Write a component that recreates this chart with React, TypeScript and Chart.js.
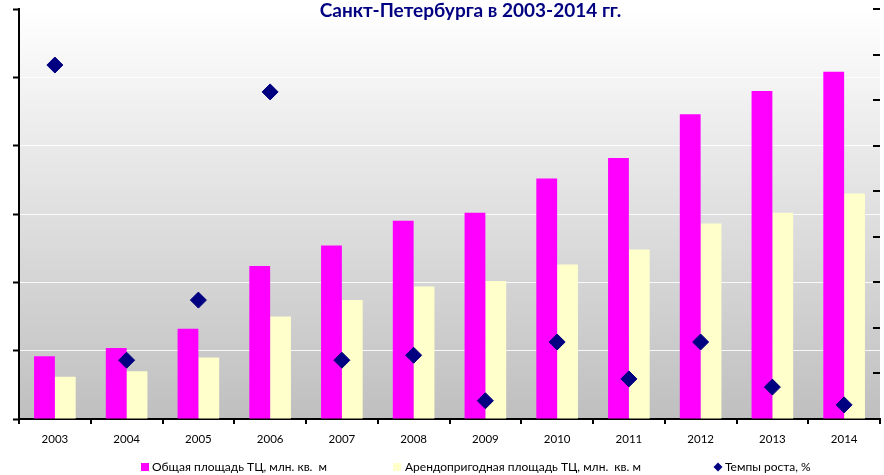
import { useEffect, useRef } from "react";
import { Chart, registerables } from "chart.js";

Chart.register(...registerables);

const years = ["2003", "2004", "2005", "2006", "2007", "2008", "2009", "2010", "2011", "2012", "2013", "2014"];
const totalArea = [0.46, 0.52, 0.66, 1.12, 1.27, 1.45, 1.51, 1.76, 1.91, 2.23, 2.4, 2.54];
const rentableArea = [0.31, 0.35, 0.45, 0.75, 0.87, 0.97, 1.01, 1.13, 1.24, 1.43, 1.51, 1.65];
const growthRate = [77.7, 12.9, 26.1, 71.8, 12.9, 14.0, 4.0, 16.9, 8.8, 16.9, 7.0, 3.1];

const titleText = "Санкт-Петербурга в 2003-2014 гг.";
const seriesNames = [
  "Общая площадь ТЦ, млн. кв.  м",
  "Арендопригодная площадь ТЦ, млн.  кв. м",
  "Темпы роста, %",
];
const leftAxis = { min: 0, max: 3, step: 0.5 };
const rightAxis = { min: 0, max: 90, step: 10 };

const MAGENTA = "#ff00ff";
const CREAM = "#ffffcc";
const NAVY = "#000080";
const FONT = "Lato, 'Open Sans', sans-serif";

const decor = {
  id: "decor",
  beforeDraw(chart: any) {
    const { ctx, chartArea: a, width, height } = chart;
    ctx.save();
    ctx.fillStyle = "#ffffff";
    ctx.fillRect(0, 0, width, height);
    const g = ctx.createLinearGradient(0, a.top, 0, a.bottom);
    g.addColorStop(0, "#ffffff");
    g.addColorStop(1, "#bfbfbf");
    ctx.fillStyle = g;
    ctx.fillRect(a.left, a.top, a.right - a.left, a.bottom - a.top);
    ctx.restore();
  },
  afterDraw(chart: any) {
    const { ctx, chartArea: a } = chart;
    ctx.save();
    // inner tick marks of the right axis
    const y1 = chart.scales.y1;
    ctx.strokeStyle = "#000";
    ctx.lineWidth = 2;
    y1.ticks.forEach((t: any) => {
      const y = Math.round(y1.getPixelForValue(t.value));
      ctx.beginPath();
      ctx.moveTo(a.right - 7, y);
      ctx.lineTo(a.right, y);
      ctx.stroke();
    });
    // title
    ctx.fillStyle = NAVY;
    ctx.font = `bold 19px ${FONT}`;
    ctx.textAlign = "center";
    ctx.textBaseline = "alphabetic";
    ctx.fillText(titleText, 470.5, 17);
    // legend
    ctx.font = `12px ${FONT}`;
    ctx.textAlign = "left";
    const ly = 471;
    ctx.fillStyle = MAGENTA;
    ctx.fillRect(141, 463, 8, 8);
    ctx.fillStyle = "#000";
    ctx.fillText(seriesNames[0], 152, ly);
    ctx.fillStyle = CREAM;
    ctx.fillRect(393, 463, 8, 8);
    ctx.fillStyle = "#000";
    ctx.fillText(seriesNames[1], 405, ly);
    ctx.fillStyle = NAVY;
    ctx.beginPath();
    ctx.moveTo(718, 462.5);
    ctx.lineTo(722.5, 467);
    ctx.lineTo(718, 471.5);
    ctx.lineTo(713.5, 467);
    ctx.closePath();
    ctx.fill();
    ctx.fillStyle = "#000";
    ctx.fillText(seriesNames[2], 725, ly);
    ctx.restore();
  },
};

export default function App() {
  const ref = useRef<HTMLCanvasElement>(null);
  useEffect(() => {
    if (!ref.current) return;
    const chart = new Chart(ref.current, {
      type: "bar",
      data: {
        labels: years,
        datasets: [
          {
            type: "bar",
            label: seriesNames[0],
            data: totalArea,
            backgroundColor: MAGENTA,
            borderWidth: 0,
            categoryPercentage: 0.58,
            barPercentage: 1,
            yAxisID: "y",
            order: 1,
          },
          {
            type: "bar",
            label: seriesNames[1],
            data: rentableArea,
            backgroundColor: CREAM,
            borderWidth: 0,
            categoryPercentage: 0.58,
            barPercentage: 1,
            yAxisID: "y",
            order: 1,
          },
          {
            type: "line",
            label: seriesNames[2],
            data: growthRate,
            yAxisID: "y1",
            showLine: false,
            pointStyle: "rectRot",
            pointRadius: 8,
            pointHoverRadius: 8,
            backgroundColor: NAVY,
            borderColor: NAVY,
            borderWidth: 1,
            order: 0,
          },
        ],
      } as any,
      options: {
        responsive: false,
        animation: false,
        events: [],
        devicePixelRatio: 1,
        layout: { padding: { top: 8, left: 13, right: 0, bottom: 21.2 } },
        plugins: {
          legend: { display: false },
          title: { display: false },
          tooltip: { enabled: false },
        },
        scales: {
          x: {
            grid: {
              offset: true,
              drawOnChartArea: false,
              drawTicks: true,
              tickLength: 5,
              color: "#000",
              lineWidth: 2,
            },
            border: { display: true, color: "#000", width: 2 },
            ticks: { color: "#000", font: { family: FONT, size: 11.5 }, padding: 8 },
          },
          y: {
            position: "left",
            min: leftAxis.min,
            max: leftAxis.max,
            ticks: { stepSize: leftAxis.step, display: false },
            grid: {
              color: "rgba(255,255,255,0.85)",
              lineWidth: 1,
              tickColor: "#000",
              tickWidth: 2,
              tickLength: 6,
              drawTicks: true,
            },
            border: { display: true, color: "#000", width: 2 },
          },
          y1: {
            position: "right",
            min: rightAxis.min,
            max: rightAxis.max,
            ticks: { stepSize: rightAxis.step, display: false },
            grid: { drawOnChartArea: false, drawTicks: false },
            border: { display: false },
          },
        },
      } as any,
      plugins: [decor],
    });
    return () => chart.destroy();
  }, []);
  return (
    <div style={{ position: "absolute", left: 0, top: 0, width: 884, height: 475, overflow: "hidden", background: "#fff" }}>
      <canvas ref={ref} width={889} height={475} style={{ display: "block" }} />
    </div>
  );
}
